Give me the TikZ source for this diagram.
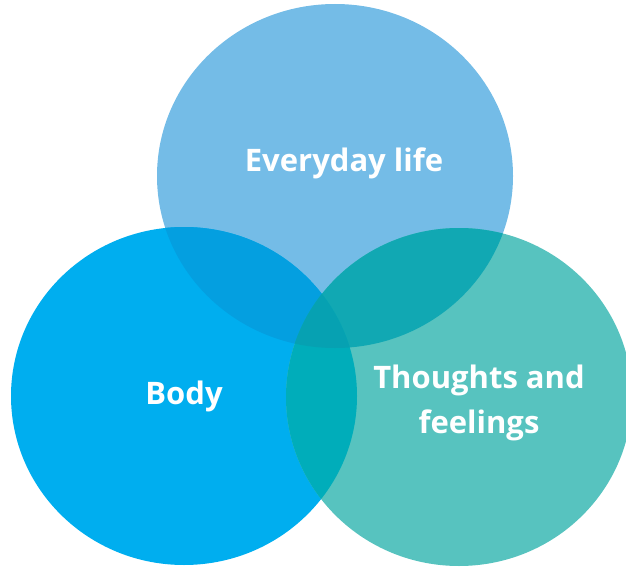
\documentclass[tikz,border=0pt]{standalone}
\usepackage{fontspec}
\setsansfont{Open Sans}
\definecolor{ctop}{HTML}{74BCE7}
\definecolor{cleft}{HTML}{00AEEF}
\definecolor{cright}{HTML}{57C3BF}
\definecolor{ctl}{HTML}{049FE0}
\definecolor{ctr}{HTML}{11A8B3}
\definecolor{clr}{HTML}{00ADBA}
\definecolor{call}{HTML}{06A1B2}
\tikzset{lbl/.style={text=white,font=\sffamily\bfseries\fontsize{31}{45}\selectfont,align=center,inner sep=0pt}}
\begin{document}
\begin{tikzpicture}[x=1pt,y=1pt]
\useasboundingbox (0,0) rectangle (626,566);
\clip (0,0) rectangle (626,566);
\def\topE{(335,390) ellipse [x radius=178, y radius=172]}
\def\leftE{(184,170) ellipse [x radius=173, y radius=169]}
\def\rightE{(459,169) ellipse [x radius=173, y radius=169]}
\fill[ctop] \topE;
\fill[cleft] \leftE;
\fill[cright] \rightE;
\begin{scope}
\clip \topE;
\fill[ctl] \leftE;
\fill[ctr] \rightE;
\end{scope}
\begin{scope}
\clip \leftE;
\fill[clr] \rightE;
\clip \rightE;
\fill[call] \topE;
\end{scope}
\node[lbl] (life) at (344,403) {Everyday life};
\node[lbl] (body) at (184,170) {Body};
\node[lbl] (thoughts) at (479,163) {Thoughts and\\feelings};
\end{tikzpicture}
\end{document}
